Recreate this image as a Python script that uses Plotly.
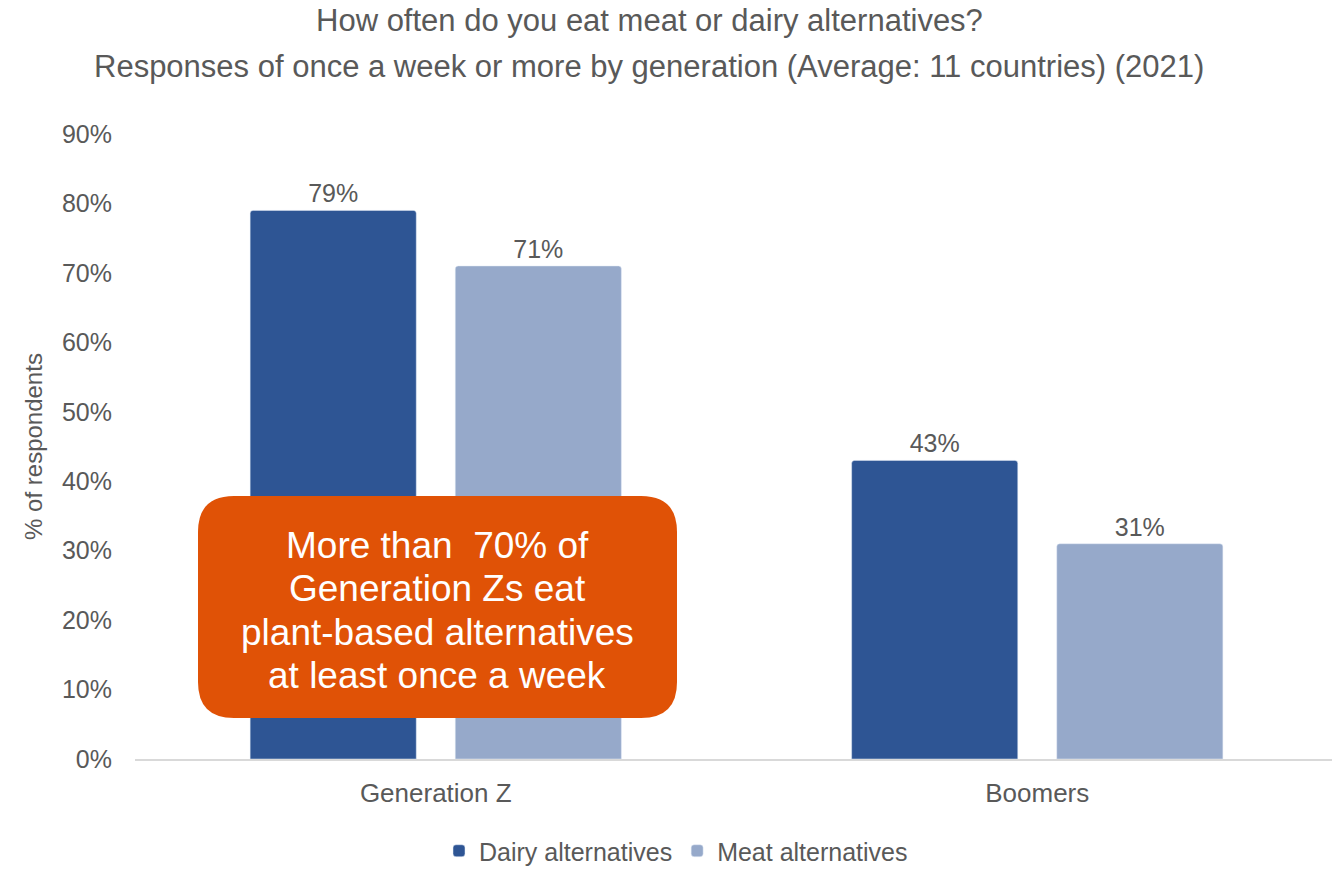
import plotly.graph_objects as go

# Survey results: share eating alternatives once a week or more
generations = ["Generation Z", "Boomers"]
dairy_alternatives = [79, 43]
meat_alternatives = [71, 31]
y_tick_values = [0, 10, 20, 30, 40, 50, 60, 70, 80, 90]
y_tick_labels = [f"{v}%" for v in y_tick_values]

title_lines = [
    "How often do you eat meat or dairy alternatives?",
    "Responses of once a week or more by generation (Average: 11 countries) (2021)",
]
callout_lines = [
    "More than  70% of",
    "Generation Zs eat",
    "plant-based alternatives",
    "at least once a week",
]

W, H = 1332, 869
M_L, M_R, M_T, M_B = 135, 0, 134, 110
PLOT_W = W - M_L - M_R
PLOT_H = H - M_T - M_B
FONT = "Liberation Sans, Arial, sans-serif"
GREY = "#595959"
DAIRY_COLOR = "#2E5594"
MEAT_COLOR = "#96A9CA"
CALLOUT_COLOR = "#E05206"


def px_x(x):
    return (x - M_L) / PLOT_W


def px_y(y):
    return (H - M_B - y) / PLOT_H


def rounded_rect_path(x0, y0, x1, y1, r):
    """SVG path (paper coords) for a rounded rectangle given in pixels."""
    rx, ry = r / PLOT_W, r / PLOT_H
    L, R = px_x(x0), px_x(x1)
    T, B = px_y(y0), px_y(y1)
    return (
        f"M {L + rx},{T} L {R - rx},{T} Q {R},{T} {R},{T - ry} "
        f"L {R},{B + ry} Q {R},{B} {R - rx},{B} "
        f"L {L + rx},{B} Q {L},{B} {L},{B + ry} "
        f"L {L},{T - ry} Q {L},{T} {L + rx},{T} Z"
    )


fig = go.Figure()
fig.add_trace(go.Bar(
    name="Dairy alternatives",
    x=generations,
    y=dairy_alternatives,
    marker=dict(color=DAIRY_COLOR, cornerradius=3),
    text=[f"{v}%" for v in dairy_alternatives],
    textposition="outside",
    textfont=dict(size=25, color=GREY, family=FONT),
    cliponaxis=False,
))
fig.add_trace(go.Bar(
    name="Meat alternatives",
    x=generations,
    y=meat_alternatives,
    marker=dict(color=MEAT_COLOR, cornerradius=3),
    text=[f"{v}%" for v in meat_alternatives],
    textposition="outside",
    textfont=dict(size=25, color=GREY, family=FONT),
    cliponaxis=False,
))

annotations = []
for line, ypx in zip(title_lines, [21, 66]):
    annotations.append(dict(
        text=line, xref="paper", yref="paper", x=px_x(649), y=px_y(ypx),
        xanchor="center", yanchor="middle", showarrow=False,
        font=dict(size=31, color=GREY, family=FONT),
    ))
for i, line in enumerate(callout_lines):
    annotations.append(dict(
        text=line, xref="paper", yref="paper", x=px_x(437), y=px_y(545 + i * 43.5),
        xanchor="center", yanchor="middle", showarrow=False,
        font=dict(size=37, color="white", family=FONT),
    ))

fig.update_layout(
    width=W, height=H,
    margin=dict(l=M_L, r=M_R, t=M_T, b=M_B),
    paper_bgcolor="white", plot_bgcolor="white",
    barmode="group", bargap=0.318, bargroupgap=0.19,
    font=dict(family=FONT, color=GREY),
    showlegend=True,
    legend=dict(
        orientation="h", xref="container", yref="container",
        x=676 / W, y=(H - 851) / H, xanchor="center", yanchor="middle",
        font=dict(size=25, color=GREY, family=FONT), traceorder="normal",
        itemwidth=30,
    ),
    annotations=annotations,
    shapes=[dict(
        type="path", xref="paper", yref="paper",
        path=rounded_rect_path(198, 496, 677, 718, 36),
        fillcolor=CALLOUT_COLOR, line=dict(width=0), layer="above",
    )],
)
fig.update_xaxes(
    range=[-0.5, 1.49],
    showline=True, linecolor="#D9D9D9", linewidth=1.5,
    showgrid=False, ticks="", tickfont=dict(size=26, color=GREY, family=FONT),
    ticklabelstandoff=10,
)
fig.update_yaxes(
    range=[0, 90], tickvals=y_tick_values, ticktext=y_tick_labels,
    showgrid=False, zeroline=False, showline=False, ticks="",
    tickfont=dict(size=25, color=GREY, family=FONT), ticklabelstandoff=22,
    title=dict(text="% of respondents", font=dict(size=24, color=GREY, family=FONT), standoff=12),
)

fig.write_html("out.html")
